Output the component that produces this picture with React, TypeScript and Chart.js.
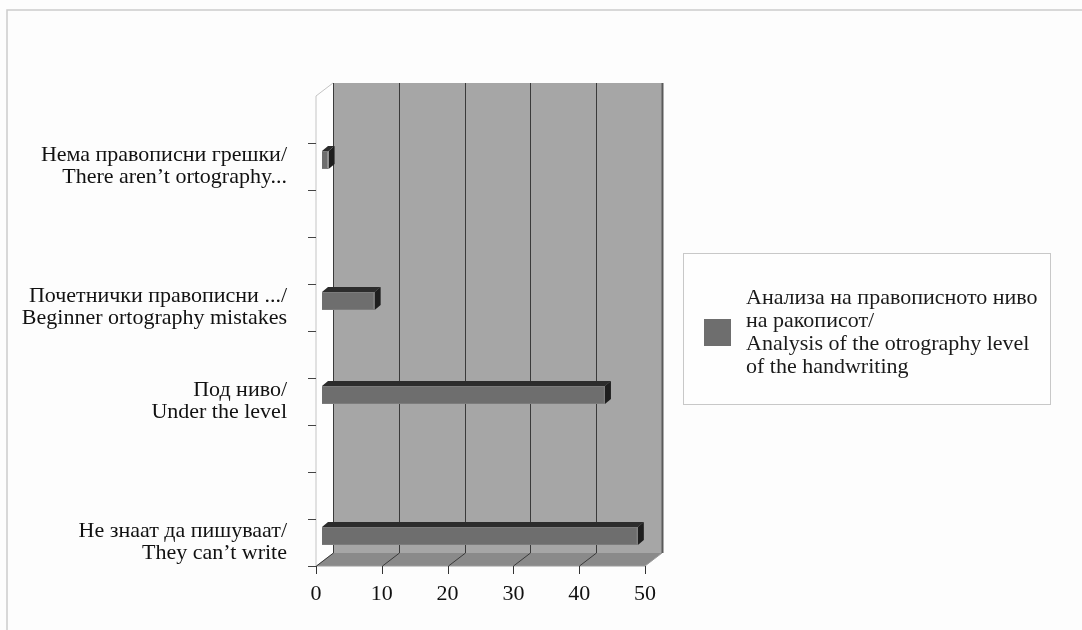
import React, { useEffect, useRef } from "react";
import { Chart, registerables } from "chart.js";

Chart.register(...registerables);

const categories: (string | string[])[] = [
  "",
  ["Нема правописни грешки/", "There aren’t ortography..."],
  "",
  "",
  ["Почетнички правописни .../", "Beginner ortography mistakes"],
  "",
  ["Под ниво/", "Under the level"],
  "",
  "",
  ["Не знаат да пишуваат/", "They can’t write"],
];

const seriesValues: (number | null)[] = [null, 1, null, null, 8, null, 43, null, null, 48];

const seriesLabel: string[] = [
  "Анализа на правописното ниво",
  "на ракописот/",
  "Analysis of the otrography level",
  "of the handwriting",
];

const xTicks: number[] = [0, 10, 20, 30, 40, 50];

const FONT = '"Liberation Serif", "Times New Roman", serif';
const BAR_COLOR = "#6e6e6e";

// 3D offsets relative to the bar plane
const FX = -6, FY = 6.5, BX = 11, BY = -6.5;
const BDX = 6, BDY = -5;

const threeD = {
  id: "threeD",
  beforeDraw(chart: any) {
    const ctx = chart.ctx;
    ctx.save();
    ctx.fillStyle = "#fdfdfd";
    ctx.fillRect(0, 0, chart.width, chart.height);
    ctx.strokeStyle = "#cccccc";
    ctx.lineWidth = 1.5;
    ctx.beginPath();
    ctx.moveTo(7, chart.height);
    ctx.lineTo(7, 10);
    ctx.lineTo(chart.width, 10);
    ctx.stroke();
    ctx.restore();
  },
  beforeDatasetsDraw(chart: any) {
    const ctx = chart.ctx;
    const xs = chart.scales.x;
    const a = chart.chartArea;
    const x0 = xs.getPixelForValue(xTicks[0]);
    const x1 = xs.getPixelForValue(xTicks[xTicks.length - 1]);
    const top = a.top, bot = a.bottom;
    ctx.save();
    // back wall
    ctx.fillStyle = "#a6a6a6";
    ctx.fillRect(x0 + BX, top + BY, x1 - x0, bot - top);
    // left wall
    ctx.fillStyle = "#fefefe";
    ctx.beginPath();
    ctx.moveTo(x0 + FX, top + FY);
    ctx.lineTo(x0 + BX, top + BY);
    ctx.lineTo(x0 + BX, bot + BY);
    ctx.lineTo(x0 + FX, bot + FY);
    ctx.closePath();
    ctx.fill();
    ctx.strokeStyle = "#c4c4c4";
    ctx.lineWidth = 1;
    ctx.beginPath();
    ctx.moveTo(x0 + FX, bot + FY);
    ctx.lineTo(x0 + FX, top + FY);
    ctx.lineTo(x0 + BX, top + BY);
    ctx.stroke();
    // floor
    ctx.fillStyle = "#8a8a8a";
    ctx.beginPath();
    ctx.moveTo(x0 + FX, bot + FY);
    ctx.lineTo(x1 + FX, bot + FY);
    ctx.lineTo(x1 + BX, bot + BY);
    ctx.lineTo(x0 + BX, bot + BY);
    ctx.closePath();
    ctx.fill();
    ctx.strokeStyle = "#9a9a9a";
    ctx.beginPath();
    ctx.moveTo(x0 + FX, bot + FY);
    ctx.lineTo(x1 + FX, bot + FY);
    ctx.lineTo(x1 + BX, bot + BY);
    ctx.stroke();
    // gridlines
    xTicks.forEach((t, i) => {
      const px = Math.round(xs.getPixelForValue(t)) + 0.5;
      const last = i === xTicks.length - 1;
      ctx.strokeStyle = last ? "#5a5a5a" : "#3a3a3a";
      ctx.lineWidth = last ? 2 : 1;
      ctx.beginPath();
      ctx.moveTo(px + BX, top + BY);
      ctx.lineTo(px + BX, bot + BY);
      if (!last) ctx.lineTo(px + FX, bot + FY);
      ctx.stroke();
      // x tick marks
      ctx.strokeStyle = "#333";
      ctx.lineWidth = 1;
      ctx.beginPath();
      ctx.moveTo(px + FX, bot + FY);
      ctx.lineTo(px + FX, bot + FY + 8);
      ctx.stroke();
    });
    // y tick marks at category boundaries
    const n = categories.length;
    const slot = (bot - top) / n;
    ctx.strokeStyle = "#444";
    ctx.lineWidth = 1;
    for (let k = 1; k <= n; k++) {
      const py = Math.round(top + FY + k * slot) + 0.5;
      ctx.beginPath();
      ctx.moveTo(x0 + FX - 8, py);
      ctx.lineTo(x0 + FX, py);
      ctx.stroke();
    }
    // bar 3D faces
    const meta = chart.getDatasetMeta(0);
    meta.data.forEach((bar: any, i: number) => {
      if (seriesValues[i] == null) return;
      const p = bar.getProps(["x", "y", "base", "height"], true);
      const l = p.base, r = p.x;
      const t = p.y - p.height / 2, b = p.y + p.height / 2;
      ctx.fillStyle = "#2c2c2c";
      ctx.beginPath();
      ctx.moveTo(l, t);
      ctx.lineTo(r, t);
      ctx.lineTo(r + BDX, t + BDY);
      ctx.lineTo(l + BDX, t + BDY);
      ctx.closePath();
      ctx.fill();
      ctx.fillStyle = "#1e1e1e";
      ctx.beginPath();
      ctx.moveTo(r, t);
      ctx.lineTo(r + BDX, t + BDY);
      ctx.lineTo(r + BDX, b + BDY);
      ctx.lineTo(r, b);
      ctx.closePath();
      ctx.fill();
    });
    ctx.restore();
  },
  afterDraw(chart: any) {
    const ctx = chart.ctx;
    ctx.save();
    // legend
    const lx = 683.5, ly = 253.5, lw = 367, lh = 151;
    ctx.fillStyle = "#fefefe";
    ctx.fillRect(lx, ly, lw, lh);
    ctx.strokeStyle = "#c8c8c8";
    ctx.lineWidth = 1;
    ctx.strokeRect(lx, ly, lw, lh);
    ctx.fillStyle = chart.data.datasets[0].backgroundColor;
    ctx.fillRect(704, 319, 27, 27);
    ctx.fillStyle = "#1a1a1a";
    ctx.font = `22px ${FONT}`;
    ctx.textBaseline = "alphabetic";
    ctx.textAlign = "left";
    seriesLabel.forEach((line, i) => {
      ctx.fillText(line, 746, 304 + i * 23);
    });
    ctx.restore();
  },
};

export default function App() {
  const ref = useRef<HTMLCanvasElement | null>(null);
  useEffect(() => {
    document.body.style.margin = "0";
    const chart = new Chart(ref.current as HTMLCanvasElement, {
      type: "bar",
      data: {
        labels: categories,
        datasets: [
          {
            label: seriesLabel.join(" "),
            data: seriesValues,
            backgroundColor: BAR_COLOR,
            borderColor: "#7c7c7c",
            borderWidth: 1,
            categoryPercentage: 1,
            barPercentage: 0.383,
          },
        ],
      },
      options: {
        indexAxis: "y",
        animation: false,
        responsive: false,
        events: [],
        layout: { padding: { left: 0, top: 89.5, right: 431, bottom: 20.5 } },
        plugins: { legend: { display: false }, tooltip: { enabled: false } },
        scales: {
          x: {
            min: 0,
            max: 50,
            afterFit: (s: any) => { s.height = 50; },
            afterBuildTicks: (s: any) => { s.ticks = xTicks.map((v) => ({ value: v })); },
            grid: { display: false, drawTicks: false },
            border: { display: false },
            ticks: {
              labelOffset: FX,
              padding: 22,
              color: "#111",
              font: { family: FONT, size: 22 },
              maxRotation: 0,
            },
          },
          y: {
            afterFit: (s: any) => { s.width = 322; },
            grid: { display: false, drawTicks: false },
            border: { display: false },
            ticks: {
              labelOffset: FY,
              padding: 35,
              color: "#111",
              autoSkip: false,
              font: { family: FONT, size: 22, lineHeight: 1.0 },
            },
          },
        },
      },
      plugins: [threeD],
    });
    return () => chart.destroy();
  }, []);
  return (
    <div style={{ position: "fixed", left: 0, top: 0, width: 1082, height: 630 }}>
      <canvas ref={ref} width={1082} height={630} style={{ width: 1082, height: 630 }} />
    </div>
  );
}
